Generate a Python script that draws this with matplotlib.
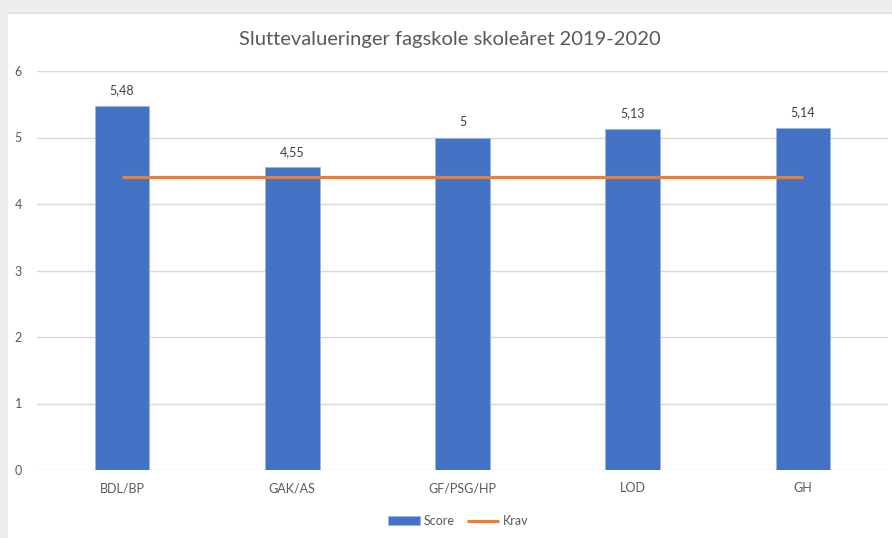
import matplotlib
matplotlib.use("Agg")
import matplotlib.pyplot as plt
from matplotlib.patches import Rectangle

categories = ["BDL/BP", "GAK/AS", "GF/PSG/HP", "LOD", "GH"]
score = [5.48, 4.55, 5.0, 5.13, 5.14]
krav = [4.4, 4.4, 4.4, 4.4, 4.4]
title = "Sluttevalueringer fagskole skoleåret 2019-2020"

plt.rcParams['font.family'] = ['Lato', 'DejaVu Sans']

fig = plt.figure(figsize=(8.92, 5.38), dpi=100)
fig.patch.set_facecolor('#eeeeee')
# white chart area inside screenshot frame
fig.patches.append(Rectangle((8/892, 0), 1, (538-14)/538, transform=fig.transFigure,
                             facecolor='white', edgecolor='none', zorder=-2))
fig.patches.append(Rectangle((8/892, (538-14)/538), 1, 1.5/538, transform=fig.transFigure,
                             facecolor='#e2e2e2', edgecolor='none', zorder=-2))

ax = fig.add_axes([37/892, 68/538, (888-37)/892, (470-71)/538])
ax.set_zorder(1)
ax.set_facecolor('none')

x = list(range(len(categories)))
bars = ax.bar(x, score, width=0.32, color='#4472C4', edgecolor='#9db5e3', linewidth=0.6,
              zorder=2, label='Score')
line, = ax.plot(x, krav, color='#ED7D31', linewidth=2.3, zorder=3, label='Krav',
                solid_capstyle='butt')

for xi, v in zip(x, score):
    ax.annotate(f"{v:g}".replace('.', ','), (xi, v), xytext=(0, 7), textcoords='offset points',
                ha='center', va='bottom', fontsize=9, color='#404040')

ax.set_xlim(-0.5, len(categories) - 0.5)
ax.set_ylim(0, 6)
ax.set_yticks(range(0, 7))
ax.set_xticks(x)
ax.set_xticklabels(categories)
ax.yaxis.grid(True, color='#d9d9d9', linewidth=1.0, zorder=0)
ax.set_axisbelow(True)
for s in ax.spines.values():
    s.set_visible(False)
ax.tick_params(axis='both', length=0, labelsize=9, colors='#595959')
ax.tick_params(axis='x', pad=9)
ax.tick_params(axis='y', pad=16)
for lbl in ax.get_yticklabels():
    lbl.set_horizontalalignment('left')

fig.text(0.5 + 4/892, 1 - 40/538, title, ha='center', va='center', fontsize=14.5, color='#595959')

leg = fig.legend([bars, line], ['Score', 'Krav'], loc='center',
                 bbox_to_anchor=(458/892, 1 - 521/538), ncol=2, frameon=False,
                 fontsize=9, handlelength=2.6, handleheight=0.65, handletextpad=0.25,
                 columnspacing=1.0, labelcolor='#595959')

fig.savefig('out.png', dpi=100, facecolor=fig.get_facecolor())
